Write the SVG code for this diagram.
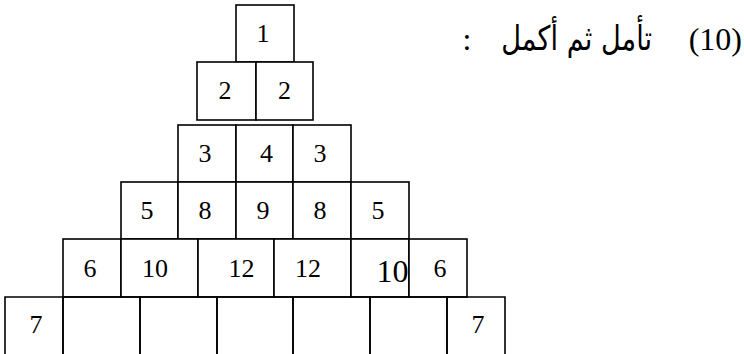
<svg xmlns="http://www.w3.org/2000/svg" width="744" height="354" viewBox="0 0 744 354">
<style>
.c{fill:#fff;stroke:#000;stroke-width:1.6}
.o{fill:none;stroke:#000;stroke-width:1.6}
.n{font-family:"Liberation Serif","Times New Roman",serif;font-size:26px;text-anchor:middle;fill:#000}
.h{font-family:"Liberation Serif","Times New Roman",serif;font-size:32px;fill:#000}
.a{font-family:"DejaVu Sans",sans-serif;font-size:34px;fill:#000}
</style>
<rect width="744" height="354" fill="#fff"/>
<g id="title">
<text class="h" x="742" y="50" text-anchor="end">(10)</text>
<text class="a" transform="translate(652 50) scale(0.8 1)" x="0" y="0" text-anchor="start" direction="rtl">تأمل ثم أكمل</text>
<text class="h" x="467" y="50" text-anchor="middle">:</text>
</g>
<g id="r1c1"><rect class="c" x="236" y="5" width="58" height="57"/><text class="n" x="263" y="42">1</text></g>
<g id="r2c1"><rect class="c" x="197" y="62" width="59" height="58"/><text class="n" x="225" y="99">2</text></g>
<g id="r2c2"><rect class="c" x="256" y="62" width="57" height="58"/><text class="n" x="284.5" y="99">2</text></g>
<g id="r3c1"><rect class="c" x="178" y="125" width="58" height="57"/><text class="n" x="205" y="162">3</text></g>
<g id="r3c2"><rect class="c" x="236" y="125" width="57" height="57"/><text class="n" x="266.5" y="162">4</text></g>
<g id="r3c3"><rect class="c" x="293" y="125" width="58" height="57"/><text class="n" x="320" y="162">3</text></g>
<g id="r4c1"><rect class="c" x="121" y="182" width="57" height="57"/><text class="n" x="147" y="219">5</text></g>
<g id="r4c2"><rect class="c" x="178" y="182" width="58" height="57"/><text class="n" x="205" y="219">8</text></g>
<g id="r4c3"><rect class="c" x="236" y="182" width="57" height="57"/><text class="n" x="263" y="219">9</text></g>
<g id="r4c4"><rect class="c" x="293" y="182" width="58" height="57"/><text class="n" x="320" y="219">8</text></g>
<g id="r4c5"><rect class="c" x="351" y="182" width="58" height="57"/><text class="n" x="378" y="219">5</text></g>
<g id="r5c1"><rect class="c" x="63" y="239" width="58" height="58"/><text class="n" x="90" y="277">6</text></g>
<g id="r5c2"><rect class="c" x="121" y="239" width="77" height="58"/><text class="n" x="155" y="277">10</text></g>
<g id="r5c3"><rect class="c" x="198" y="239" width="76" height="58"/><text class="n" x="241.5" y="277">12</text></g>
<g id="r5c4"><rect class="c" x="274" y="239" width="77" height="58"/><text class="n" x="308" y="277">12</text></g>
<g id="r5c5"><rect class="c" x="351" y="239" width="58" height="58"/><text class="n" x="392.5" y="282" style="font-size:32px">10</text></g>
<g id="r5c6"><rect class="c" x="409" y="239" width="58" height="58"/><text class="n" x="440" y="277">6</text></g>
<g id="r6c1"><path class="o" d="M5 356V297H63V356"/><text class="n" x="36" y="333">7</text></g>
<g id="r6c2"><path class="o" d="M63 356V297H140V356"/></g>
<g id="r6c3"><path class="o" d="M140 356V297H217V356"/></g>
<g id="r6c4"><path class="o" d="M217 356V297H293V356"/></g>
<g id="r6c5"><path class="o" d="M293 356V297H370V356"/></g>
<g id="r6c6"><path class="o" d="M370 356V297H447V356"/></g>
<g id="r6c7"><path class="o" d="M447 356V297H505V356"/><text class="n" x="478" y="333">7</text></g>
</svg>
